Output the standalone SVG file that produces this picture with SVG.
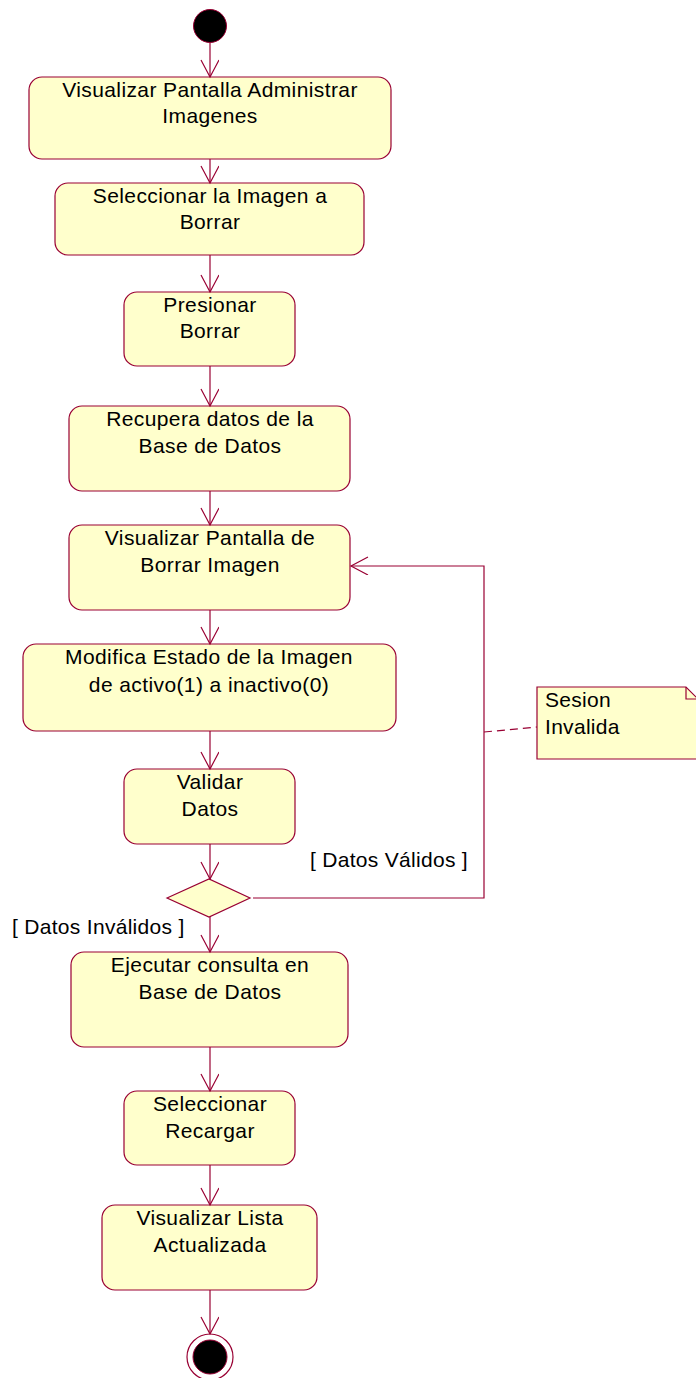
<svg xmlns="http://www.w3.org/2000/svg" width="696" height="1378" viewBox="0 0 696 1378">
<style>
.n{fill:#ffffcc;stroke:#990033;stroke-width:1.2}
.t{font-family:"Liberation Sans",Arial,sans-serif;font-size:21px;letter-spacing:0.4px;fill:#000;text-anchor:middle}
.l{font-family:"Liberation Sans",Arial,sans-serif;font-size:21px;letter-spacing:0.3px;fill:#000}
.c{fill:none;stroke:#990033;stroke-width:1.2}
</style>
<defs>
<marker id="a" markerWidth="20" markerHeight="20" refX="18" refY="9" orient="auto" markerUnits="userSpaceOnUse">
<path d="M1,0 L18,9 L1,18" fill="none" stroke="#990033" stroke-width="1.2"/>
</marker>
</defs>
<g id="start"><circle cx="210" cy="26" r="16.5" fill="#000" stroke="#990033" stroke-width="1"/></g>
<g id="n1"><rect class="n" x="29" y="77" width="362" height="82" rx="13"/><text class="t" x="210" y="97">Visualizar Pantalla Administrar</text><text class="t" x="210" y="123">Imagenes</text></g>
<g id="n2"><rect class="n" x="55" y="183" width="309" height="72" rx="13"/><text class="t" x="210" y="203">Seleccionar la Imagen a</text><text class="t" x="210" y="229">Borrar</text></g>
<g id="n3"><rect class="n" x="124" y="292" width="171" height="74" rx="13"/><text class="t" x="210" y="312">Presionar</text><text class="t" x="210" y="338">Borrar</text></g>
<g id="n4"><rect class="n" x="69" y="406" width="281" height="85" rx="13"/><text class="t" x="210" y="426">Recupera datos de la</text><text class="t" x="210" y="453">Base de Datos</text></g>
<g id="n5"><rect class="n" x="69" y="525" width="281" height="85" rx="13"/><text class="t" x="210" y="545">Visualizar Pantalla de</text><text class="t" x="210" y="572">Borrar Imagen</text></g>
<g id="n6"><rect class="n" x="23" y="644" width="373" height="87" rx="13"/><text class="t" x="209" y="664">Modifica Estado de la Imagen</text><text class="t" x="209" y="692">de activo(1) a inactivo(0)</text></g>
<g id="n7"><rect class="n" x="124" y="769" width="171" height="75" rx="13"/><text class="t" x="210" y="789">Validar</text><text class="t" x="210" y="816">Datos</text></g>
<g id="dec"><polygon class="n" points="167,898 209,879 250,898 209,917"/></g>
<g id="n8"><rect class="n" x="71" y="952" width="277" height="95" rx="13"/><text class="t" x="210" y="972">Ejecutar consulta en</text><text class="t" x="210" y="999">Base de Datos</text></g>
<g id="n9"><rect class="n" x="124" y="1091" width="171" height="74" rx="13"/><text class="t" x="210" y="1111">Seleccionar</text><text class="t" x="210" y="1138">Recargar</text></g>
<g id="n10"><rect class="n" x="102" y="1205" width="215" height="85" rx="13"/><text class="t" x="210" y="1225">Visualizar Lista</text><text class="t" x="210" y="1252">Actualizada</text></g>
<g id="end"><circle cx="210" cy="1357" r="23" fill="#fff" stroke="#990033" stroke-width="1.2"/><circle cx="210" cy="1357" r="17" fill="#000" stroke="#990033" stroke-width="1"/></g>
<g id="note"><path class="n" d="M537,687 L686,687 L698,699 L698,759 L537,759 Z"/><path class="c" d="M686,687 L686,699 L698,699"/><text class="l" x="545" y="707">Sesion</text><text class="l" x="545" y="734">Invalida</text></g>
<g id="connectors">
<line class="c" x1="210" y1="43" x2="210" y2="77" marker-end="url(#a)"/>
<line class="c" x1="210" y1="159" x2="210" y2="183" marker-end="url(#a)"/>
<line class="c" x1="210" y1="255" x2="210" y2="292" marker-end="url(#a)"/>
<line class="c" x1="210" y1="366" x2="210" y2="406" marker-end="url(#a)"/>
<line class="c" x1="210" y1="491" x2="210" y2="525" marker-end="url(#a)"/>
<line class="c" x1="210" y1="610" x2="210" y2="644" marker-end="url(#a)"/>
<line class="c" x1="210" y1="731" x2="210" y2="769" marker-end="url(#a)"/>
<line class="c" x1="210" y1="844" x2="210" y2="879" marker-end="url(#a)"/>
<line class="c" x1="210" y1="917" x2="210" y2="952" marker-end="url(#a)"/>
<line class="c" x1="210" y1="1047" x2="210" y2="1091" marker-end="url(#a)"/>
<line class="c" x1="210" y1="1165" x2="210" y2="1205" marker-end="url(#a)"/>
<line class="c" x1="210" y1="1290" x2="210" y2="1334" marker-end="url(#a)"/>
<polyline class="c" points="253,898 484,898 484,566 351,566" marker-end="url(#a)"/>
<line class="c" x1="484" y1="732" x2="537" y2="727" stroke-dasharray="8,5"/>
<text class="l" x="310" y="867">[ Datos Válidos ]</text>
<text class="l" x="12" y="934">[ Datos Inválidos ]</text>
</g>
</svg>
